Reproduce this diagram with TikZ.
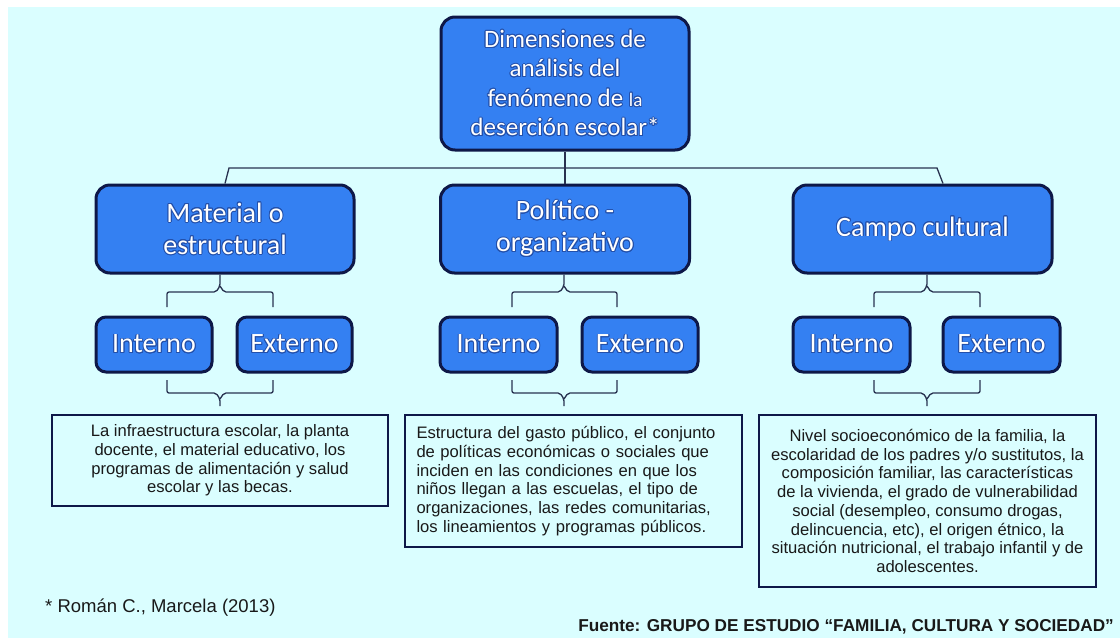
\documentclass[tikz,border=0pt]{standalone}
\usepackage{fontspec}
\usepackage[copies]{contour}
\setmainfont{Liberation Sans}
\newfontfamily\boxfont{Carlito}
\definecolor{bgc}{RGB}{218,254,255}
\definecolor{boxfill}{RGB}{52,128,242}
\definecolor{boxline}{RGB}{14,24,72}
\definecolor{glowc}{RGB}{35,80,170}
\definecolor{conn}{RGB}{40,50,80}
\definecolor{txt}{RGB}{25,25,25}
\contourlength{0.9pt}
\contournumber{16}
\newcommand{\gl}[1]{\contour{glowc}{#1}}
\tikzset{
  bluebox/.style={draw=boxline, line width=3pt, fill=boxfill, rounded corners=14pt,
    text=white, align=center, inner sep=0pt, font=\boxfont\fontsize{28}{32}\selectfont},
  smallbox/.style={bluebox, rounded corners=10pt, minimum height=55pt},
  descbox/.style={draw=boxline, line width=1.2pt, fill=bgc, text=txt, inner sep=0pt,
    font=\fontsize{16.6}{18.7}\selectfont},
  connline/.style={draw=conn, line width=1.3pt},
  bracepath/.style={draw=conn, line width=1.3pt, rounded corners=2pt}
}
\begin{document}
\begin{tikzpicture}[x=1pt,y=-1pt]
\useasboundingbox (0,0) rectangle (1120,638);
\fill[white] (0,0) rectangle (1120,638);
\fill[bgc] (8,7) rectangle (1120,638);

% top box
\node[bluebox, minimum width=248pt, minimum height=133pt, font=\boxfont\fontsize{25}{29.5}\selectfont] (top) at (565,83.5)
  {\gl{Dimensiones de}\\\gl{análisis del}\\\gl{fenómeno de {\fontsize{19}{29.5}\selectfont la}}\\\gl{deserción escolar*}};

% level 2
\node[bluebox, minimum width=258pt, minimum height=88pt] (mat) at (225,229) {\gl{Material o}\\\gl{estructural}};
\node[bluebox, minimum width=249pt, minimum height=88pt] (pol) at (565,229) {\gl{Político -}\\\gl{organizativo}};
\node[bluebox, minimum width=259pt, minimum height=88pt] (cam) at (922.5,229) {\gl{Campo cultural}};

% level 3
\node[smallbox, minimum width=116pt] (i1) at (154,344.5) {\gl{Interno}};
\node[smallbox, minimum width=115pt] (e1) at (294.5,344.5) {\gl{Externo}};
\node[smallbox, minimum width=117pt] (i2) at (498.5,344.5) {\gl{Interno}};
\node[smallbox, minimum width=116pt] (e2) at (640,344.5) {\gl{Externo}};
\node[smallbox, minimum width=117pt] (i3) at (851.5,344.5) {\gl{Interno}};
\node[smallbox, minimum width=117pt] (e3) at (1001.5,344.5) {\gl{Externo}};

% description boxes
\node[descbox, minimum width=336pt, minimum height=91pt, align=center] (d1) at (220,460.5)
  {La infraestructura escolar, la planta\\docente, el material educativo, los\\programas de alimentación y salud\\escolar y las becas.};
\node[descbox, minimum width=337pt, minimum height=132pt, align=left, text width=314pt] (d2) at (573.5,481)
  {Estructura del gasto público, el conjunto\\de políticas económicas o sociales que\\inciden en las condiciones en que los\\niños llegan a las escuelas, el tipo de\\organizaciones, las redes comunitarias,\\los lineamientos y programas públicos.};
\node[descbox, minimum width=337pt, minimum height=172pt, align=center] (d3) at (927.5,501)
  {Nivel socioeconómico de la familia, la\\escolaridad de los padres y/o sustitutos, la\\composición familiar, las características\\de la vivienda, el grado de vulnerabilidad\\social (desempleo, consumo drogas,\\delincuencia, etc), el origen étnico, la\\situación nutricional, el trabajo infantil y de\\adolescentes.};

% footnotes
\node[anchor=west, font=\fontsize{18.5}{21}\selectfont, text=txt, inner sep=0pt] (fn) at (45,608) {* Román C., Marcela (2013)};
\node[anchor=east, font=\bfseries\fontsize{17.2}{20}\selectfont, text=txt, inner sep=0pt] (src) at (1114,627) {Fuente: GRUPO DE ESTUDIO “FAMILIA, CULTURA Y SOCIEDAD”};

% top connector
\coordinate (hl) at (229,168);
\coordinate (hr) at (937,168);
\draw[connline] (top.south) -- (pol.north);
\draw[connline] (mat.north -| 225,0) -- (hl) -- (hr) -- (cam.north -| 943,0);

% braces
\foreach \b/\c/\l/\r/\L/\R/\D in {mat/220/167/273/i1/e1/d1, pol/564/512/617/i2/e2/d2, cam/927/874/980/i3/e3/d3}{
  % upper brace
  \draw[bracepath] (\l,307) -- (\l,292) -- (\c-4,292) -- (\c,286) -- (\b.south -| \c,0);
  \draw[bracepath] (\c,286) -- (\c+4,292) -- (\r,292) -- (\r,307);
  % lower brace
  \draw[bracepath] (\l,380) -- (\l,393) -- (\c-4,393) -- (\c,399) -- (\c,406);
  \draw[bracepath] (\c,399) -- (\c+4,393) -- (\r,393) -- (\r,380);
}
\end{tikzpicture}
\end{document}
